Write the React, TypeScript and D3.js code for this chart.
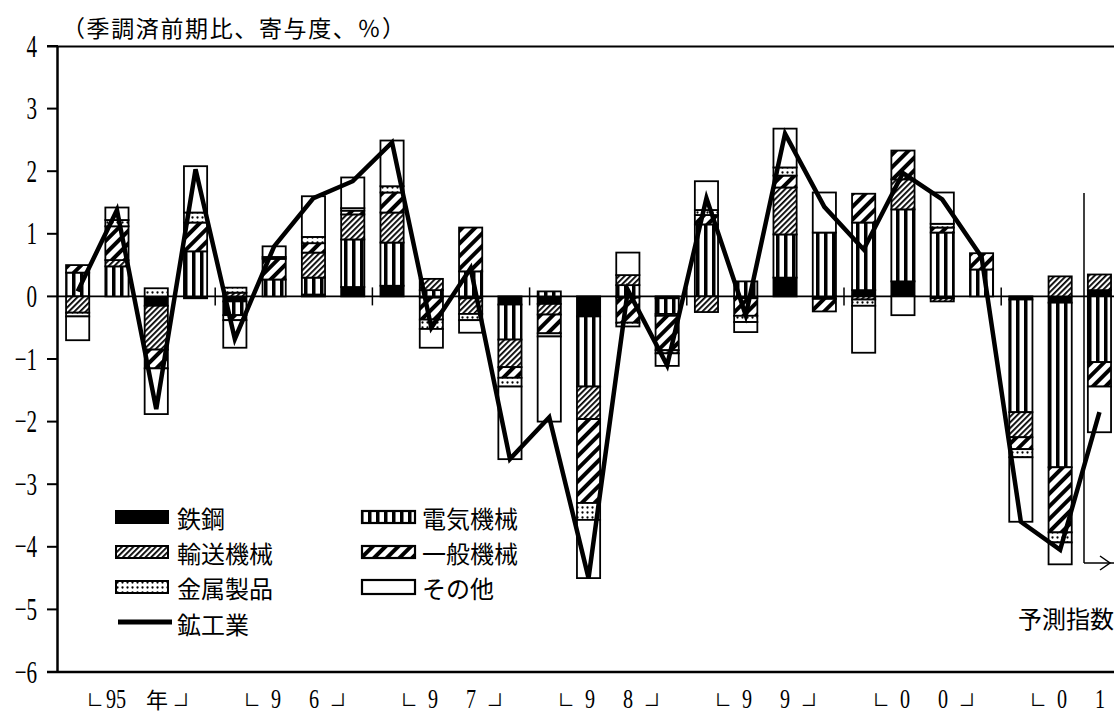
import React from 'react';
import * as d3 from 'd3';

// 鉱工業生産 前期比と業種別寄与度 (95年1-3月期 ～ 01年7-9月期, 最後は予測指数)
const quarters = [
  '95Q1', '95Q2', '95Q3', '95Q4',
  '96Q1', '96Q2', '96Q3', '96Q4',
  '97Q1', '97Q2', '97Q3', '97Q4',
  '98Q1', '98Q2', '98Q3', '98Q4',
  '99Q1', '99Q2', '99Q3', '99Q4',
  '00Q1', '00Q2', '00Q3', '00Q4',
  '01Q1', '01Q2', '01Q3',
];

const steel = [0, 0, -0.15, -0.03, -0.08, 0, 0.03, 0.15, 0.17, -0.02, -0.03, -0.13, -0.12, -0.32, -0.02, -0.03, 0, -0.03, 0.3, -0.04, 0.1, 0.24, -0.03, 0, -0.05, -0.1, 0.1];
const electric = [0.38, 0.48, 0, 0.72, -0.22, 0.27, 0.27, 0.76, 0.69, 0.1, 0.4, -0.56, 0.08, -1.12, 0.18, -0.25, 1.15, 0.24, 0.69, 1.02, 1.08, 1.15, 1.02, 0.43, -1.8, -2.63, -1.05];
const transport = [-0.26, 0.1, -0.7, 0, 0.06, 0, 0.4, 0.4, 0.48, 0.18, -0.25, -0.44, -0.17, -0.52, 0.16, -0.03, -0.25, 0, 0.75, 0, -0.05, 0.48, -0.05, 0, -0.4, 0.32, 0.25];
const general = [0.12, 0.54, -0.3, 0.46, -0.08, 0.33, 0.15, 0.06, 0.32, -0.35, 0.7, -0.17, -0.3, -1.34, -0.4, -0.55, 0.15, -0.28, 0.19, -0.2, 0.46, 0.46, 0.08, 0.26, -0.19, -1.04, -0.39];
const metal = [-0.06, 0.1, 0.13, 0.16, 0.08, 0.03, 0.1, 0.04, 0.1, -0.15, -0.1, -0.14, -0.05, -0.27, -0.06, -0.05, 0.08, -0.1, 0.13, 0, -0.1, 0, 0.06, 0, -0.13, -0.16, 0];
const other = [-0.38, 0.2, -0.73, 0.74, -0.44, 0.17, 0.65, 0.49, 0.73, -0.3, -0.2, -1.16, -1.36, -0.93, 0.36, -0.2, 0.46, -0.16, 0.62, 0.64, -0.75, -0.3, 0.5, 0, -1.03, -0.35, -0.73];
// 鉱工業 (折れ線)
const mining = [0.08, 1.38, -1.8, 2.03, -0.68, 0.8, 1.57, 1.84, 2.46, -0.5, 0.45, -2.6, -1.93, -4.5, 0.1, -1.1, 1.57, -0.3, 2.6, 1.43, 0.75, 1.97, 1.55, 0.63, -3.6, -4.05, -1.85];

const seriesKeys = ['鉄鋼', '電気機械', '輸送機械', '一般機械', '金属製品', 'その他'];
const seriesValues = [steel, electric, transport, general, metal, other];
const seriesFills = ['#000', 'url(#pElec)', 'url(#pTrans)', 'url(#pGen)', 'url(#pMetal)', '#fff'];

const yTicks = [4, 3, 2, 1, 0, -1, -2, -3, -4, -5, -6];
// 最後の年 (01) は右端で切れているので閉じ括弧なし
const yearLabels = [
  ['95', '年', true],
  ['9', '6', true],
  ['9', '7', true],
  ['9', '8', true],
  ['9', '9', true],
  ['0', '0', true],
  ['0', '1', false],
];

const W = 1114;
const H = 718;
const left = 58;
const step = 39.3;
const cjk = '"Noto Sans CJK JP", sans-serif';
const serif = '"Liberation Serif", serif';

export default function App() {
  const rows = quarters.map((q, i) => {
    const r: any = { q };
    seriesKeys.forEach((k, j) => (r[k] = seriesValues[j][i]));
    return r;
  });

  const stacked = d3.stack<any>().keys(seriesKeys).offset(d3.stackOffsetDiverging)(rows);

  const x = d3
    .scaleBand<string>()
    .domain(quarters)
    .range([left, left + quarters.length * step])
    .paddingInner(0.41)
    .paddingOuter(0.205);
  const y = d3.scaleLinear().domain([-6, 4]).range([672, 46]);
  const bw = x.bandwidth();

  const line = d3
    .line<number>()
    .x((_, i) => (x(quarters[i]) as number) + bw / 2)
    .y((d) => y(d));

  const y0 = y(0);
  const yearStarts = d3.range(1, 7).map((k) => left + k * 4 * step);

  // legend entries (swatch fill by series index)
  const legend1 = [0, 2, 4];
  const legend2 = [1, 3, 5];
  const rowY = [517, 552, 587];

  return (
    <svg
      width={W}
      height={H}
      style={{ position: 'absolute', left: 0, top: 0, background: '#fff' }}
    >
      <defs>
        <pattern id="pElec" width={8} height={8} patternUnits="userSpaceOnUse">
          <rect width={8} height={8} fill="#fff" />
          <rect x={0} width={3.5} height={8} fill="#000" />
        </pattern>
        <pattern id="pTrans" width={4} height={4} patternUnits="userSpaceOnUse" patternTransform="rotate(45)">
          <rect width={4} height={4} fill="#fff" />
          <rect x={0} width={1.8} height={4} fill="#000" />
        </pattern>
        <pattern id="pGen" width={9} height={9} patternUnits="userSpaceOnUse" patternTransform="rotate(45)">
          <rect width={9} height={9} fill="#fff" />
          <rect x={0} width={4} height={9} fill="#000" />
        </pattern>
        <pattern id="pMetal" width={5} height={5} patternUnits="userSpaceOnUse">
          <rect width={5} height={5} fill="#fff" />
          <circle cx={2.5} cy={2.5} r={1.15} fill="#000" />
        </pattern>
      </defs>

      {/* title */}
      <text x={62} y={27} fontFamily={cjk} fontSize={23} dominantBaseline="central" textLength={343}>
        （季調済前期比、寄与度、％）
      </text>

      {/* frame */}
      <line x1={47} x2={W} y1={46.5} y2={46.5} stroke="#000" strokeWidth={2} />
      <line x1={47} x2={W} y1={672} y2={672} stroke="#000" strokeWidth={2.5} />
      <line x1={57.5} x2={57.5} y1={46} y2={673} stroke="#000" strokeWidth={2.5} />
      {yTicks.map((t) => (
        <g key={t}>
          <line x1={47} x2={58} y1={y(t)} y2={y(t)} stroke="#000" strokeWidth={2} />
          <text
            transform={`translate(37,${y(t)}) scale(0.66,1)`}
            textAnchor="end"
            dominantBaseline="central"
            fontFamily={serif}
            fontSize={32}
          >
            {t < 0 ? `−${-t}` : t}
          </text>
        </g>
      ))}

      {/* zero line + year ticks */}
      <line x1={57} x2={W} y1={y0} y2={y0} stroke="#000" strokeWidth={1.8} />
      {yearStarts.map((xs) => (
        <line key={xs} x1={xs} x2={xs} y1={y0 - 9} y2={y0 + 9} stroke="#000" strokeWidth={1.5} />
      ))}

      {/* stacked bars */}
      {stacked.map((s, j) => (
        <g key={s.key} fill={seriesFills[j]} stroke="#000" strokeWidth={1.8}>
          {s.map((d, i) => {
            const h = Math.abs(y(d[0]) - y(d[1]));
            if (h < 0.5) return null;
            return (
              <rect
                key={i}
                x={x(quarters[i])}
                y={Math.min(y(d[0]), y(d[1]))}
                width={bw}
                height={h}
              />
            );
          })}
        </g>
      ))}

      {/* 鉱工業 line */}
      <path d={line(mining) || ''} fill="none" stroke="#000" strokeWidth={4.5} strokeLinejoin="miter" />

      {/* forecast marker */}
      <line x1={1084} x2={1084} y1={193} y2={563} stroke="#000" strokeWidth={1.5} />
      <line x1={1084} x2={W} y1={563} y2={563} stroke="#000" strokeWidth={1.5} />
      <polyline points="1100,556 1110,563 1100,570" fill="none" stroke="#000" strokeWidth={1.5} />
      <text x={1018} y={617} fontFamily={cjk} fontSize={24} dominantBaseline="central">
        予測指数
      </text>

      {/* legend */}
      {legend1.map((j, r) => (
        <g key={seriesKeys[j]}>
          <rect x={116} y={rowY[r] - 6} width={52} height={12} fill={seriesFills[j]} stroke="#000" strokeWidth={2} />
          <text x={177} y={rowY[r]} fontFamily={cjk} fontSize={24} dominantBaseline="central">
            {seriesKeys[j]}
          </text>
        </g>
      ))}
      {legend2.map((j, r) => (
        <g key={seriesKeys[j]}>
          <rect
            x={362}
            y={rowY[r] - (j === 5 ? 7 : 6)}
            width={53}
            height={j === 5 ? 14 : 12}
            fill={seriesFills[j]}
            stroke="#000"
            strokeWidth={2.2}
          />
          <text x={422} y={rowY[r]} fontFamily={cjk} fontSize={24} dominantBaseline="central">
            {seriesKeys[j]}
          </text>
        </g>
      ))}
      <line x1={118} x2={172} y1={622} y2={622} stroke="#000" strokeWidth={5} />
      <text x={177} y={623} fontFamily={cjk} fontSize={24} dominantBaseline="central">
        鉱工業
      </text>

      {/* x-axis year labels */}
      {yearLabels.map(([a, b, close], k) => {
        const cx = Math.round(left + (4 * k + 2) * step);
        const digitFirst = a === '95';
        return (
          <g key={k}>
            <text
              x={cx - 58}
              y={703}
              fill="#000"
              stroke="#000"
              strokeWidth={0.4}
              fontFamily={cjk}
              fontSize={22}
              dominantBaseline="central"
            >
              └
            </text>
            <text
              transform={`translate(${digitFirst ? cx - 21 : cx - 18},698) scale(0.72,1)`}
              textAnchor="middle"
              dominantBaseline="central"
              fontFamily={serif}
              fontSize={28}
            >
              {a}
            </text>
            {digitFirst ? (
              <text x={cx + 20} y={698} textAnchor="middle" fontFamily={cjk} fontSize={22} dominantBaseline="central">
                {b}
              </text>
            ) : (
              <text
                transform={`translate(${cx + 20},698) scale(0.72,1)`}
                textAnchor="middle"
                dominantBaseline="central"
                fontFamily={serif}
                fontSize={28}
              >
                {b}
              </text>
            )}
            {close && (
              <text
                x={cx + 38}
                y={703}
                fill="#000"
                stroke="#000"
                strokeWidth={0.4}
                fontFamily={cjk}
                fontSize={22}
                dominantBaseline="central"
              >
                ┘
              </text>
            )}
          </g>
        );
      })}
    </svg>
  );
}
